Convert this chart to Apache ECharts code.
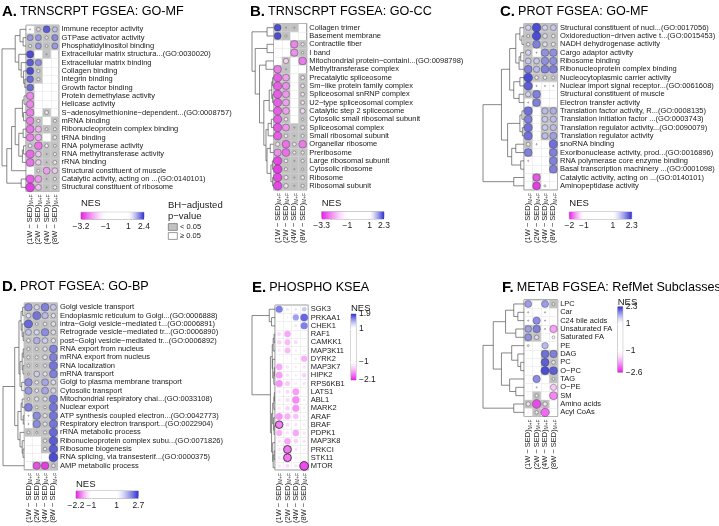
<!DOCTYPE html>
<html><head><meta charset="utf-8">
<script src="https://cdn.jsdelivr.net/npm/echarts@6/dist/echarts.min.js"></script>
<style>html,body{margin:0;padding:0;background:#fff}#c{width:719px;height:526px}</style>
</head><body><div id="c"></div>
<script>
// ---------------- DATA ----------------
const COLS = ['1W','2W','4W','8W'];

const A_ROWS = ['Immune receptor activity','GTPase activator activity','Phosphatidylinositol binding','Extracellular matrix structura...(GO:0030020)','Extracellular matrix binding','Collagen binding','Integrin binding','Growth factor binding','Protein demethylase activity','Helicase activity','S−adenosylmethionine−dependent...(GO:0008757)','mRNA binding','Ribonucleoprotein complex binding','tRNA binding','RNA polymerase activity','RNA methyltransferase activity','rRNA binding','Structural constituent of muscle','Catalytic activity, acting on ...(GO:0140101)','Structural constituent of ribosome'];
const A_NES = [[1.05,1.3,2.3,1.6],[1.9,1.9,1.2,2.0],[1.2,1.9,1.15,1.9],[2.4,null,1.05,null],[2.3,2.0,null,null],[2.4,1.2,null,null],[2.2,1.2,null,null],[2.2,null,null,null],[-2.5,null,null,null],[-2.5,null,null,null],[-2.6,null,-1.3,null],[-2.6,-1.2,null,-1.2],[-2.7,-2.0,-1.15,-1.2],[-2.6,-2.1,null,-1.3],[-1.3,-2.7,-1.3,-1.15],[-2.8,-1.8,-1.05,-1.2],[-2.7,-1.7,-1.05,-1.3],[null,-1.15,-2.3,-1.8],[-2.9,-2.3,-1.05,-1.2],[-3.2,-1.9,-1.05,-1.3]];
const A_SIG = [[0,1,1,1],[1,1,1,1],[1,1,1,1],[1,0,1,0],[1,1,0,0],[1,1,0,0],[1,1,0,0],[1,0,0,0],[1,0,0,0],[1,0,0,0],[1,0,1,0],[1,1,0,1],[1,1,1,1],[1,1,0,1],[1,1,1,1],[1,1,1,1],[1,1,1,1],[0,1,1,1],[1,1,1,1],[1,1,1,1]];
const A_TICKS = [-3.2,-1,1,2.4];
const A_TREE = [1.0,[0.45,[0.25,0,[0.12,1,2]],[0.3,3,[0.2,4,[0.1,5,[0.05,6,7]]]]],[0.8,[0.6,[0.45,[0.15,[0.08,8,9],[0.1,10,11]],[0.3,[0.12,12,13],[0.15,[0.1,14,15],16]]],17],[0.2,18,19]]];

const B_ROWS = ['Collagen trimer','Basement membrane','Contractile fiber','I band','Mitochondrial protein−containi...(GO:0098798)','Methyltransferase complex','Precatalytic spliceosome','Sm−like protein family complex','Spliceosomal snRNP complex','U2−type spliceosomal complex','Catalytic step 2 spliceosome','Cytosolic small ribosomal subunit','Spliceosomal complex','Small ribosomal subunit','Organellar ribosome','Preribosome','Large ribosomal subunit','Cytosolic ribosome','Ribosome','Ribosomal subunit'];
const B_NES = [[2.3,1.05,1.05,null],[2.3,1.1,null,null],[null,null,-2.6,-1.2],[null,null,-2.5,-1.1],[null,-1.7,null,-2.7],[-2.7,-1.05,null,null],[-3.0,-2.3,null,-1.3],[-3.0,-2.5,null,-1.3],[-3.0,-2.4,null,-1.3],[-3.0,-2.3,null,-1.3],[-3.0,-2.3,null,-1.6],[-3.0,-1.3,null,-1.1],[-3.1,-2.4,-1.05,-1.3],[-3.0,-1.3,-1.05,-1.2],[-1.4,-2.8,-1.3,-2.7],[-2.5,-2.8,-1.2,-1.2],[-3.2,-1.3,-1.05,-1.2],[-3.3,-1.2,-1.05,-1.1],[-3.2,-1.4,-1.05,-1.3],[-3.2,-1.5,-1.05,-1.2]];
const B_SIG = [[1,1,1,0],[1,1,0,0],[0,0,1,1],[0,0,1,1],[0,1,0,1],[1,1,0,0],[1,1,0,1],[1,1,0,1],[1,1,0,1],[1,1,0,1],[1,1,0,1],[1,1,0,1],[1,1,1,1],[1,1,1,1],[1,1,1,1],[1,1,1,1],[1,1,1,1],[1,1,1,1],[1,1,1,1],[1,1,1,1]];
const B_TICKS = [-3.3,-1,1,2.3];
const B_TREE = [1.0,[0.3,0,1],[0.85,[0.3,2,3],[0.65,[0.35,4,5],[0.45,[0.2,[0.08,[0.04,6,7],[0.04,8,9]],10],[0.35,[0.25,[0.1,11,12],13],[0.3,[0.15,14,15],[0.12,[0.05,16,17],[0.04,18,19]]]]]]]];

const C_ROWS = ['Structural constituent of nucl...(GO:0017056)','Oxidoreduction−driven active t...(GO:0015453)','NADH dehydrogenase activity','Cargo adaptor activity','Ribosome binding','Ribonucleoprotein complex binding','Nucleocytoplasmic carrier activity','Nuclear import signal receptor...(GO:0061608)','Structural constituent of muscle','Electron transfer activity','Translation factor activity, R...(GO:0008135)','Translation initiation factor ...(GO:0003743)','Translation regulator activity...(GO:0090079)','Translation regulator activity','snoRNA binding','Exoribonuclease activity, prod...(GO:0016896)','RNA polymerase core enzyme binding','Basal transcription machinery ...(GO:0001098)','Catalytic activity, acting on ...(GO:0140101)','Aminopeptidase activity'];
const C_NES = [[1.4,2.3,1.4,1.5],[1.1,2.3,1.3,1.15],[1.15,2.0,1.3,1.2],[1.4,1.03,1.9,1.9],[1.5,1.5,1.9,1.9],[2.0,1.6,2.0,2.0],[2.3,1.15,1.15,1.1],[2.2,1.03,1.03,1.03],[1.4,2.0,null,null],[1.03,2.0,null,null],[2.1,null,1.6,1.7],[2.0,null,1.5,1.6],[2.1,null,1.5,1.6],[2.1,null,1.6,1.8],[1.2,1.03,null,2.1],[2.0,null,null,2.0],[1.03,null,null,2.0],[null,null,null,2.0],[null,-1.9,null,null],[null,-2.0,-1.05,null]];
const C_SIG = [[1,1,1,1],[1,1,1,1],[1,1,1,1],[1,0,1,1],[1,1,1,1],[1,1,1,1],[1,1,1,1],[1,0,0,0],[1,1,0,0],[0,1,0,0],[1,0,1,1],[1,0,1,1],[1,0,1,1],[1,0,1,1],[1,0,0,1],[1,0,0,1],[0,0,0,1],[0,0,0,1],[0,1,0,0],[0,1,0,0]];
const C_TICKS = [-2,-1,1,2.3];
const C_TREE = [1.0,[0.55,[0.35,[0.2,[0.1,0,[0.05,1,2]],[0.12,[0.08,3,4],5]],[0.25,[0.1,6,7],[0.12,8,9]]],[0.4,[0.1,[0.05,10,11],[0.04,12,13]],[0.3,[0.2,14,15],[0.08,16,17]]]],[0.25,18,19]];

const D_ROWS = ['Golgi vesicle transport','Endoplasmic reticulum to Golgi...(GO:0006888)','intra−Golgi vesicle−mediated t...(GO:0006891)','Retrograde vesicle−mediated tr...(GO:0006890)','post−Golgi vesicle−mediated tr...(GO:0006892)','RNA export from nucleus','mRNA export from nucleus','RNA localization','mRNA transport','Golgi to plasma membrane transport','Cytosolic transport','Mitochondrial respiratory chai...(GO:0033108)','Nuclear export','ATP synthesis coupled electron...(GO:0042773)','Respiratory electron transport...(GO:0022904)','rRNA metabolic process','Ribonucleoprotein complex subu...(GO:0071826)','Ribosome biogenesis','RNA splicing, via transesterif...(GO:0000375)','AMP metabolic process'];
const D_NES = [[2.2,1.5,2.3,1.7],[1.4,2.4,1.8,1.3],[2.5,1.1,1.2,1.4],[1.7,1.5,2.2,1.4],[1.2,1.9,1.6,1.3],[1.15,1.15,1.3,2.3],[1.15,1.15,1.4,2.3],[1.1,1.05,1.15,2.4],[1.05,1.6,1.3,2.3],[2.2,1.2,2.0,1.4],[2.1,1.2,2.0,1.5],[1.1,1.3,1.3,2.4],[2.3,1.1,1.1,2.4],[1.03,2.2,1.3,2.4],[1.03,2.2,1.3,2.4],[1.1,1.05,1.15,2.5],[null,null,1.2,2.6],[null,null,1.2,2.6],[null,null,null,2.7],[null,-2.1,-2.2,-1.2]];
const D_SIG = [[1,1,1,1],[1,1,1,1],[1,1,1,1],[1,1,1,1],[1,1,1,1],[1,1,1,1],[1,1,1,1],[1,1,1,1],[1,1,1,1],[1,1,1,1],[1,1,1,1],[1,1,1,1],[1,1,1,1],[0,1,1,1],[0,1,1,1],[1,1,1,1],[0,0,1,1],[0,0,1,1],[0,0,0,1],[0,1,1,1]];
const D_TICKS = [-2.2,-1,1,2.7];
const D_TREE = [1.0,[0.45,[0.25,[0.15,[0.08,0,1],[0.1,2,[0.05,3,4]]],[0.2,[0.1,[0.05,5,6],[0.06,7,8]],[0.12,9,10]]],[0.3,[0.15,[0.1,11,12],[0.05,13,14]],[0.2,15,[0.1,16,[0.06,17,18]]]]],19];

const E_ROWS = ['SGK3','PRKAA1','CHEK1','RAF1','CAMKK1','MAP3K11','DYRK2','MAP3K7','HIPK2','RPS6KB1','LATS1','ABL1','MARK2','ARAF','BRAF','PDPK1','MAP3K8','PRKCI','STK11','MTOR'];
const E_NES = [[1.75,1.25,1.25,1.4],[null,1.22,1.6,1.85],[null,null,1.25,1.75],[-1.35,-1.65,-1.22,null],[-1.4,-1.55,-1.35,null],[-1.28,-1.55,-1.25,-1.25],[null,-1.22,-1.25,-1.6],[-1.65,-1.3,-1.25,-1.3],[-1.7,-1.3,-1.25,-1.4],[-1.75,-1.45,-1.25,-1.3],[-1.3,-1.35,-1.7,-1.22],[-1.28,-1.35,-1.8,-1.25],[-1.28,-1.4,-1.75,-1.25],[-1.75,-1.6,-1.5,-1.25],[-1.85,-1.35,-1.3,-1.25],[-1.6,-1.3,-1.65,-1.3],[-1.3,-1.65,-1.4,-1.3],[-1.3,-1.9,-1.3,-1.25],[-1.3,-1.9,-1.25,null],[-1.3,-1.35,-1.3,-2.1]];
const E_SIG = [[0,0,0,0],[0,0,0,0],[0,0,0,0],[0,0,0,0],[0,0,0,0],[0,0,0,0],[0,0,0,0],[0,0,0,0],[0,0,0,0],[0,0,0,0],[0,0,0,0],[0,0,0,0],[0,0,0,0],[0,0,0,0],[1,0,0,0],[0,0,0,0],[0,0,0,0],[0,1,0,0],[0,1,0,0],[0,0,0,1]];
const E_TICKS = [-2.1,-1,1,1.9];
const E_TREE = [1.0,[0.25,0,[0.15,1,2]],[0.2,[0.12,[0.08,[0.04,3,4],5],[0.1,6,[0.05,[0.03,7,8],9]]],[0.15,[0.1,[0.05,[0.03,10,11],12],[0.06,13,[0.04,14,15]]],[0.1,16,[0.08,[0.04,17,18],19]]]]];

const F_ROWS = ['LPC','Car','C24 bile acids','Unsaturated FA','Saturated FA','PE','DAG','PC','O−PC','TAG','O−PE','SM','Amino acids','Acyl CoAs'];
const F_NES = [[1.9,null,1.9,1.1],[1.03,null,1.03,null],[1.03,2.0,1.03,null],[1.8,2.0,1.03,-2.0],[1.9,1.3,null,-1.1],[1.05,null,1.7,null],[null,null,2.1,2.0],[null,null,2.2,1.2],[null,null,2.3,2.2],[null,2.0,null,1.1],[null,1.03,null,-1.7],[null,1.15,null,-2.2],[-1.3,-2.5,-1.3,null],[null,-1.15,-2.4,null]];
const F_SIG = [[0,0,0,1],[0,0,0,0],[0,0,0,0],[1,1,0,0],[1,1,0,0],[0,0,0,0],[0,0,1,1],[0,0,1,1],[0,0,1,1],[0,0,0,1],[0,0,0,0],[0,1,0,0],[1,1,1,0],[0,1,0,0]];
const F_TICKS = [-2.6,-1,1,2.3];
const F_TREE = [1.0,[0.75,[0.45,[0.25,0,[0.15,1,2]],[0.2,3,4]],[0.55,[0.3,5,[0.15,6,[0.08,7,8]]],[0.35,9,[0.2,10,11]]]],[0.25,12,13]];

// ---------------- STYLE / LAYOUT ----------------
const FONT = '"Liberation Sans", Arial, Helvetica, sans-serif';
const MAG = [232, 30, 232], BLUE = [48, 48, 212], WHITE = [255,255,255];
const GAMMA = 1.4;
const GRAY = '#c2c2c2';
const TXT = '#1a1a1a';

const PANELS = [
  {key:'A', name:'TRNSCRPT FGSEA: GO-MF', rows:A_ROWS, nes:A_NES, sig:A_SIG, ticks:A_TICKS, tree:A_TREE, bg:true,
   title:[2,4], g:[26,25.2,59,191.5], dl:2, leg:{o:'h',x:81,y:212.3,w:63,h:7,ny:198.5}, bh:true},
  {key:'B', name:'TRNSCRPT FGSEA: GO-CC', rows:B_ROWS, nes:B_NES, sig:B_SIG, ticks:B_TICKS, tree:B_TREE, bg:true,
   title:[250,4], g:[273.5,23.5,306.8,190], dl:252, leg:{o:'h',x:321.7,y:211.7,w:62.3,h:7.3,ny:198.5}},
  {key:'C', name:'PROT FGSEA: GO-MF', rows:C_ROWS, nes:C_NES, sig:C_SIG, ticks:C_TICKS, tree:C_TREE, bg:true,
   title:[500,4], g:[524,23.5,557.5,190], dl:483, leg:{o:'h',x:569.3,y:212,w:62.4,h:7,ny:198.5}},
  {key:'D', name:'PROT FGSEA: GO-BP', rows:D_ROWS, nes:D_NES, sig:D_SIG, ticks:D_TICKS, tree:D_TREE, bg:true,
   title:[2,279], g:[24.3,303.1,57.5,469.9], dl:3, leg:{o:'h',x:76,y:491,w:62.3,h:7.3,ny:479}},
  {key:'E', name:'PHOSPHO KSEA', rows:E_ROWS, nes:E_NES, sig:E_SIG, ticks:E_TICKS, tree:E_TREE, bg:false,
   title:[252,280], g:[275,305.1,308.3,471.9], dl:252, leg:{o:'v',x:351,y:314,w:5,h:66,ny:303}},
  {key:'F', name:'METAB FGSEA: RefMet Subclasses', rows:F_ROWS, nes:F_NES, sig:F_SIG, ticks:F_TICKS, tree:F_TREE, bg:true,
   title:[502,280], g:[524,299.8,557.7,416.5], dl:483, leg:{o:'v',x:617.7,y:306.7,w:5,h:65.6,ny:297}}
];

// ---------------- HELPERS ----------------
function mix(a,b,t){ return 'rgb('+a.map((x,i)=>Math.round(x+(b[i]-x)*t)).join(',')+')'; }
function colorFn(min,max){
  return v => {
    if (v >= 1) return mix(WHITE, BLUE, Math.pow(Math.min(1,(v-1)/(max-1)), GAMMA));
    if (v <= -1) return mix(WHITE, MAG, Math.pow(Math.min(1,(-1-v)/(-1-min)), GAMMA));
    return 'rgb(255,255,255)';
  };
}
// point diameter: area scale over the panel's |NES| data range (like ggplot scale_size)
function sizeFn(nes){
  const abs = nes.flat().filter(v => v != null).map(Math.abs);
  const lo = Math.min(...abs), hi = Math.max(...abs);
  return v => 1.2 + 7.6*Math.sqrt(Math.max(0, Math.abs(v)-lo)/(hi-lo));
}
function dendroSegs(tree){
  const segs = [];
  (function rec(n){
    if (typeof n === 'number') return {y:n, h:0};
    const a = rec(n[1]), b = rec(n[2]), h = n[0];
    segs.push([a.h,a.y,h,a.y],[b.h,b.y,h,b.y],[h,a.y,h,b.y]);
    return {y:(a.y+b.y)/2, h};
  })(tree);
  return segs;
}
const fmtNum = v => (v < 0 ? '−' + Math.abs(v) : String(v));

const grid=[], xAxis=[], yAxis=[], series=[], graphic=[], title=[];

PANELS.forEach(P => {
  const [gl, gt, gr, gb] = P.g;
  const mn = P.ticks[0], mx = P.ticks[P.ticks.length-1];
  const col = colorFn(mn, mx), sz = sizeFn(P.nes);

  title.push({left:P.title[0], top:P.title[1], padding:0, text:'{b|'+P.key+'.}{n|'+P.name+'}',
    textStyle:{fontWeight:'normal', rich:{b:{fontSize:15,fontWeight:'bold',fontFamily:FONT,color:'#000', padding:[0,3,0,0]}, n:{fontSize:12.6,fontWeight:'normal',fontFamily:FONT,color:'#000'}}}});

  // main grid
  const gi = grid.length;
  grid.push({left:gl, top:gt, width:gr-gl, height:gb-gt, show:true, backgroundColor:'#fff', borderColor:'#555', borderWidth:0.7});
  const xi = xAxis.length;
  xAxis.push({gridIndex:gi, type:'category', data:COLS, position:'bottom',
    axisLine:{show:false}, axisTick:{show:false},
    splitLine:{show:true, interval:0, lineStyle:{color:'#e2e2e2', width:0.5}},
    axisLabel:{rotate:90, margin:3, interval:0, color:TXT,
      formatter: v => '{m|(' + v + ' − SED)}{s|M+F}',
      rich:{m:{fontSize:7.5, fontFamily:FONT, color:TXT, lineHeight:9}, s:{fontSize:4.8, fontFamily:FONT, color:TXT, verticalAlign:'bottom', lineHeight:9, padding:[3,0,0,0]}}}});
  yAxis.push({gridIndex:gi, type:'category', data:P.rows, inverse:true, position:'right',
    axisLine:{show:false}, axisTick:{show:false},
    splitLine:{show:true, interval:0, lineStyle:{color:'#e2e2e2', width:0.5}},
    axisLabel:{fontSize:7.5, fontFamily:FONT, color:TXT, margin:2.5, interval:0}});

  if (P.bg) {
    const cells = [];
    P.sig.forEach((r,ri) => r.forEach((s,ci) => { if (s) cells.push([ci, ri]); }));
    series.push({type:'custom', xAxisIndex:xi, yAxisIndex:xi, z:1, silent:true, data:cells,
      renderItem:(params, api) => {
        const p = api.coord([api.value(0), api.value(1)]), s = api.size([1,1]);
        return {type:'rect', shape:{x:p[0]-s[0]/2, y:p[1]-s[1]/2, width:s[0], height:s[1]}, style:{fill:GRAY}};
      }});
  }
  const pts = [];
  P.nes.forEach((r,ri) => r.forEach((v,ci) => {
    if (v == null) return;
    const sig = P.sig[ri][ci];
    pts.push({value:[ci, ri, v], itemStyle:{color:col(v),
      borderColor: P.bg ? '#3a3a3a' : '#000', borderWidth: P.bg ? 0.5 : (sig ? 0.8 : 0)}});
  }));
  series.push({type:'scatter', xAxisIndex:xi, yAxisIndex:xi, z:3, silent:true, data:pts,
    symbolSize: val => sz(val[2])});

  // dendrogram
  const di = grid.length;
  grid.push({left:P.dl, top:gt, width:gl-P.dl, height:gb-gt});
  xAxis.push({gridIndex:di, type:'value', min:0, max:1, inverse:true, show:false});
  yAxis.push({gridIndex:di, type:'value', min:-0.5, max:P.rows.length-0.5, inverse:true, show:false});
  series.push({type:'custom', xAxisIndex:di, yAxisIndex:di, silent:true, data:dendroSegs(P.tree),
    encode:{x:[0,2], y:[1,3]},
    renderItem:(params, api) => {
      const a = api.coord([api.value(0), api.value(1)]), b = api.coord([api.value(2), api.value(3)]);
      return {type:'line', shape:{x1:a[0], y1:a[1], x2:b[0], y2:b[1]}, style:{stroke:'#555', lineWidth:0.7}};
    }});

  // colour bar legend
  const L = P.leg, li = grid.length;
  grid.push({left:L.x, top:L.y, width:L.w, height:L.h, show:true, borderColor:'#777', borderWidth:0.6});
  const off = v => (v - mn)/(mx - mn);
  const vals = [];
  for (let i = 0; i <= 12; i++) vals.push(mn + (-1 - mn)*i/12);
  for (let i = 0; i <= 12; i++) vals.push(1 + (mx - 1)*i/12);
  let stops;
  if (L.o === 'h') {
    stops = vals.map(v => ({offset:off(v), color:col(v)}));
    xAxis.push({gridIndex:li, type:'value', min:mn, max:mx, position:'bottom',
      axisLine:{show:false}, splitLine:{show:false},
      axisTick:{show:true, inside:true, length:1.8, customValues:P.ticks, lineStyle:{color:'#fff', width:0.8}},
      axisLabel:{customValues:P.ticks, fontSize:8.5, fontFamily:FONT, color:TXT, margin:2.5, formatter:fmtNum}});
    yAxis.push({gridIndex:li, type:'value', min:0, max:1, show:false});
  } else {
    stops = vals.map(v => ({offset:1-off(v), color:col(v)})).sort((a,b)=>a.offset-b.offset);
    xAxis.push({gridIndex:li, type:'value', min:0, max:1, show:false});
    yAxis.push({gridIndex:li, type:'value', min:mn, max:mx, position:'right',
      axisLine:{show:false}, splitLine:{show:false},
      axisTick:{show:true, inside:true, length:1.5, customValues:P.ticks, lineStyle:{color:'#fff', width:0.8}},
      axisLabel:{customValues:P.ticks, fontSize:8.5, fontFamily:FONT, color:TXT, margin:3, formatter:fmtNum}});
  }
  const grad = L.o === 'h' ? new echarts.graphic.LinearGradient(0,0,1,0,stops) : new echarts.graphic.LinearGradient(0,0,0,1,stops);
  series.push({type:'custom', xAxisIndex:li, yAxisIndex:li, silent:true, z:1, data:[[L.o==='h'?mn:0, L.o==='h'?0:mn]],
    renderItem:(params) => { const cs = params.coordSys;
      return {type:'rect', shape:{x:cs.x, y:cs.y, width:cs.width, height:cs.height}, style:{fill:grad}}; }});
  graphic.push({type:'text', left:L.x, top:L.ny, style:{text:'NES', font:'9.5px ' + FONT, fill:TXT}});

  if (P.bh) {
    graphic.push({type:'text', left:168, top:200, style:{text:'BH−adjusted\np−value', font:'9.5px ' + FONT, fill:TXT, lineHeight:11}});
    graphic.push({type:'rect', left:168, top:223.3, shape:{width:9, height:6.8}, style:{fill:GRAY, stroke:'#555', lineWidth:0.6}});
    graphic.push({type:'rect', left:168, top:232.3, shape:{width:9, height:6.8}, style:{fill:'#fff', stroke:'#555', lineWidth:0.6}});
    graphic.push({type:'text', left:180, top:223, style:{text:'< 0.05', font:'7.5px ' + FONT, fill:TXT}});
    graphic.push({type:'text', left:180, top:232, style:{text:'≥ 0.05', font:'7.5px ' + FONT, fill:TXT}});
  }
});

const chart = echarts.init(document.getElementById('c'), null, {renderer:'canvas'});
chart.setOption({animation:false, backgroundColor:'#fff', textStyle:{fontFamily:FONT},
  title, grid, xAxis, yAxis, series, graphic});
</script></body></html>
